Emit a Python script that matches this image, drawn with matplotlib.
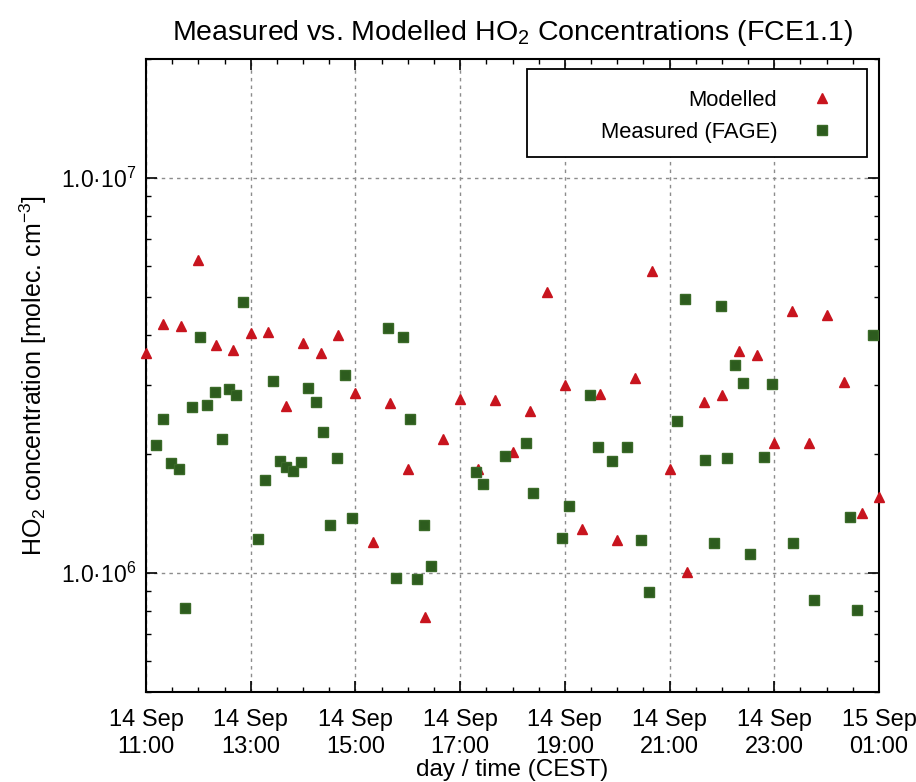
import matplotlib
matplotlib.use("Agg")
import matplotlib.pyplot as plt
import matplotlib.dates as mdates
from matplotlib.patches import Rectangle
import pandas as pd

plt.rcParams['font.family'] = ['Liberation Sans', 'DejaVu Sans']
plt.rcParams['mathtext.default'] = 'regular'

# times are CEST, run starts 14 Sep 11:00 and ends 15 Sep 01:00
model_times = ["11:00", "11:20", "11:40", "12:00", "12:20", "12:40", "13:00", "13:20",
               "13:40", "14:00", "14:20", "14:40", "15:00", "15:20", "15:40", "16:00",
               "16:20", "16:40", "17:00", "17:20", "17:40", "18:00", "18:20", "18:40",
               "19:00", "19:20", "19:40", "20:00", "20:20", "20:40", "21:00", "21:20",
               "21:40", "22:00", "22:20", "22:40", "23:00", "23:20", "23:40", "00:00",
               "00:20", "00:40", "01:00"]
model_values = [3.61e6, 4.27e6, 4.23e6, 6.21e6, 3.78e6, 3.67e6, 4.06e6, 4.07e6,
                2.65e6, 3.82e6, 3.61e6, 4.00e6, 2.85e6, 1.20e6, 2.70e6, 1.83e6,
                7.73e5, 2.19e6, 2.76e6, 1.83e6, 2.74e6, 2.03e6, 2.57e6, 5.13e6,
                3.00e6, 1.29e6, 2.84e6, 1.21e6, 3.12e6, 5.81e6, 1.83e6, 1.006e6,
                2.71e6, 2.82e6, 3.65e6, 3.56e6, 2.13e6, 4.61e6, 2.13e6, 4.49e6,
                3.04e6, 1.42e6, 1.56e6]

fage_times = ["11:12", "11:20", "11:29", "11:38", "11:45", "11:53", "12:02", "12:10",
              "12:19", "12:27", "12:35", "12:43", "12:51", "13:08", "13:16", "13:25",
              "13:33", "13:41", "13:49", "13:58", "14:06", "14:15", "14:23", "14:31",
              "14:39", "14:48", "14:56", "15:37", "15:46", "15:54", "16:02", "16:10",
              "16:19", "16:27", "17:18", "17:26", "17:51", "18:15", "18:24", "18:57",
              "19:05", "19:29", "19:38", "19:54", "20:11", "20:27", "20:36", "21:09",
              "21:18", "21:41", "21:51", "21:59", "22:06", "22:15", "22:24", "22:32",
              "22:48", "22:57", "23:21", "23:45", "00:27", "00:35", "00:53"]
fage_values = [2.11e6, 2.46e6, 1.90e6, 1.83e6, 8.16e5, 2.63e6, 3.95e6, 2.66e6,
               2.88e6, 2.18e6, 2.92e6, 2.83e6, 4.84e6, 1.22e6, 1.72e6, 3.07e6,
               1.92e6, 1.86e6, 1.81e6, 1.91e6, 2.94e6, 2.71e6, 2.28e6, 1.32e6,
               1.95e6, 3.17e6, 1.38e6, 4.16e6, 9.73e5, 3.95e6, 2.46e6, 9.67e5,
               1.32e6, 1.04e6, 1.80e6, 1.68e6, 1.98e6, 2.13e6, 1.59e6, 1.23e6,
               1.48e6, 2.82e6, 2.08e6, 1.92e6, 2.08e6, 1.21e6, 8.95e5, 2.42e6,
               4.95e6, 1.93e6, 1.19e6, 4.75e6, 1.95e6, 3.36e6, 3.02e6, 1.12e6,
               1.97e6, 3.01e6, 1.19e6, 8.54e5, 1.39e6, 8.08e5, 4.01e6]


def to_datetime(times):
    # hours before 11 belong to the next day
    out = []
    for t in times:
        day = "2012-09-15" if int(t[:2]) < 11 else "2012-09-14"
        out.append(pd.Timestamp(day + " " + t))
    return out


model_dt = to_datetime(model_times)
fage_dt = to_datetime(fage_times)

fig = plt.figure(figsize=(9.16, 7.82), dpi=100)
ax = fig.add_axes([0.1594, 0.1151, 0.8002, 0.8095])

ax.plot(model_dt, model_values, linestyle="none", marker="^", ms=7.3,
        color="#c8141e", mec="#c8141e", label="Modelled", clip_on=False, zorder=4)
ax.plot(fage_dt, fage_values, linestyle="none", marker="s", ms=7.5,
        color="#2d5c1e", mec="#3a6a28", label="Measured (FAGE)", clip_on=False, zorder=5)

ax.set_yscale("log")
ax.set_ylim(5e5, 2e7)
ax.set_xlim(pd.Timestamp("2012-09-14 11:00"), pd.Timestamp("2012-09-15 01:00"))

ax.xaxis.set_major_locator(mdates.HourLocator(byhour=range(1, 24, 2)))
ax.xaxis.set_minor_locator(mdates.MinuteLocator(byminute=[0, 30]))
ax.xaxis.set_major_formatter(mdates.DateFormatter("%d %b\n%H:%M"))

ax.set_yticks([1e6, 1e7])
ax.set_yticklabels(["1.0\u00b710$^{6}$", "1.0\u00b710$^{7}$"])

ax.tick_params(which="both", direction="in", top=True, right=True)
ax.tick_params(axis="x", labelsize=17, pad=12)
ax.tick_params(axis="y", labelsize=16.5, pad=7)
ax.tick_params(which="major", length=8, width=1.2)
ax.tick_params(which="minor", length=3.8, width=1.0)
fig.canvas.draw()
for lbl in ax.get_xticklabels():
    lbl.set_linespacing(1.3)

for sp in ax.spines.values():
    sp.set_linewidth(1.5)

ax.grid(True, which="major", color="#8c8c8c", linestyle=(0, (2.5, 3)), linewidth=1.0)

ax.set_title("Measured vs. Modelled HO$_2$ Concentrations (FCE1.1)", fontsize=20.5, pad=14)
ax.set_xlabel("day / time (CEST)", fontsize=17.5, labelpad=1)
ax.set_ylabel("HO$_2$ concentration [molec. cm$^{-3}$]", fontsize=18, labelpad=9)

# gnuplot style key: white box, text right aligned before the marker
ax.add_patch(Rectangle((0.5198, 0.8452), 0.4638, 0.139, transform=ax.transAxes,
                       facecolor="white", edgecolor="black", linewidth=1.3, zorder=6))
leg = ax.legend(loc="upper right", bbox_to_anchor=(0.963, 0.951), frameon=False,
                markerfirst=False, fontsize=15.8, handlelength=2.7, handletextpad=0.7,
                borderpad=0, borderaxespad=0, labelspacing=0.5)
leg.set_zorder(7)

fig.savefig("out.png", dpi=100)
